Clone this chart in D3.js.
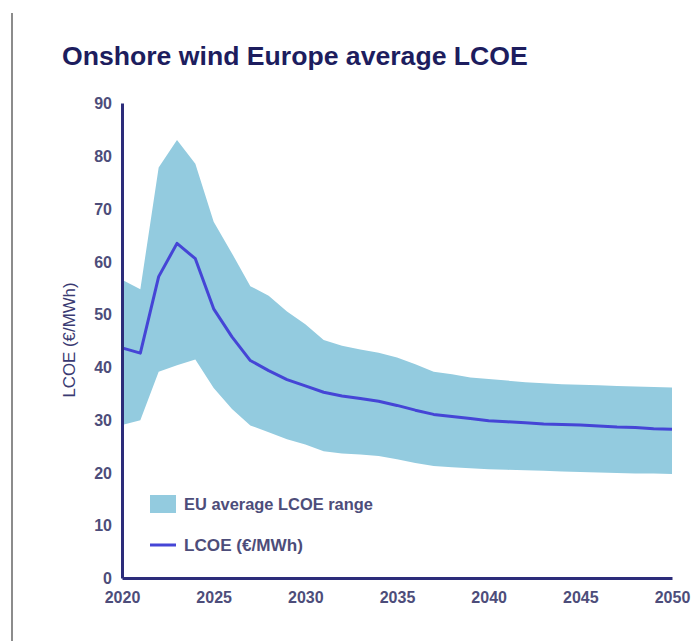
<!DOCTYPE html>
<html>
<head>
<meta charset="utf-8">
<script src="https://cdn.jsdelivr.net/npm/d3@7"></script>
<style>
  html, body { margin: 0; padding: 0; background: #fff; }
  svg { display: block; }
  text { font-family: "Liberation Sans", Arial, Helvetica, sans-serif; }
</style>
</head>
<body>
<svg id="chart" width="692" height="641"></svg>
<script>
// Onshore wind, Europe: average levelised cost of electricity (EUR/MWh)
const years = d3.range(2020, 2051);
const lcoe = [
  43.6, 42.6, 57.1, 63.4, 60.5, 51.0, 45.7, 41.2, 39.3, 37.6,
  36.4, 35.2, 34.5, 34.0, 33.5, 32.7, 31.8, 31.0, 30.6, 30.2,
  29.8, 29.6, 29.4, 29.2, 29.1, 29.0, 28.8, 28.6, 28.5, 28.3, 28.2
];
const rangeHigh = [
  56.5, 54.7, 77.8, 83.0, 78.5, 67.5, 61.5, 55.3, 53.5, 50.5,
  48.1, 45.1, 44.0, 43.3, 42.7, 41.8, 40.5, 39.1, 38.6, 38.0,
  37.7, 37.4, 37.1, 36.9, 36.7, 36.6, 36.5, 36.4, 36.3, 36.2, 36.1
];
const rangeLow = [
  29.0, 29.9, 39.1, 40.3, 41.4, 36.0, 32.0, 28.9, 27.6, 26.3,
  25.3, 24.0, 23.6, 23.4, 23.1, 22.5, 21.8, 21.2, 21.0, 20.8,
  20.6, 20.5, 20.4, 20.3, 20.2, 20.1, 20.0, 19.9, 19.8, 19.8, 19.7
];
const xTicks = [2020, 2025, 2030, 2035, 2040, 2045, 2050];
const yTicks = [0, 10, 20, 30, 40, 50, 60, 70, 80, 90];
const legendLabels = ["EU average LCOE range", "LCOE (€/MWh)"];
const titleText = "Onshore wind Europe average LCOE";
const yLabel = "LCOE (€/MWh)";

const rows = years.map((yr, i) => ({ yr, mid: lcoe[i], lo: rangeLow[i], hi: rangeHigh[i] }));

const bandColor = "#93cbdf";
const lineColor = "#4545d6";
const axisColor = "#2c2c7a";
const textColor = "#3a3a72";
const tickColor = "#4d4d7a";

const svg = d3.select("#chart");

// scale a text element's font size so its rendered width matches a target
function fitWidth(sel, target) {
  const node = sel.node();
  const fs = parseFloat(sel.attr("font-size"));
  const w = node.getComputedTextLength();
  if (w > 0) sel.attr("font-size", (fs * target / w).toFixed(2));
  return sel;
}

// page frame line on the left
svg.append("line")
  .attr("x1", 12).attr("x2", 12).attr("y1", 13).attr("y2", 641)
  .attr("stroke", "#8c8c8c").attr("stroke-width", 2);

const x = d3.scaleLinear().domain([2020, 2050]).range([122, 672]);
const y = d3.scaleLinear().domain([0, 90]).range([578, 103]);

// range band
svg.append("path")
  .datum(rows)
  .attr("fill", bandColor)
  .attr("d", d3.area()
    .x(d => x(d.yr))
    .y0(d => y(d.lo))
    .y1(d => y(d.hi)));

// average line
svg.append("path")
  .datum(rows)
  .attr("fill", "none")
  .attr("stroke", lineColor)
  .attr("stroke-width", 3)
  .attr("stroke-linejoin", "round")
  .attr("d", d3.line()
    .x(d => x(d.yr))
    .y(d => y(d.mid)));

// axes
const yAxis = svg.append("g")
  .attr("transform", `translate(${x(2020)},0)`)
  .call(d3.axisLeft(y).tickValues(yTicks).tickSize(0).tickPadding(10).tickFormat(d3.format("d")));
const xAxis = svg.append("g")
  .attr("transform", `translate(0,${y(0)})`)
  .call(d3.axisBottom(x).tickValues(xTicks).tickSize(0).tickPadding(14).tickFormat(d3.format("d")));

[yAxis, xAxis].forEach(g => {
  g.select(".domain").attr("stroke", axisColor).attr("stroke-width", 3);
  g.selectAll("text")
    .attr("fill", tickColor)
    .attr("font-size", 16)
    .attr("font-weight", "bold")
    .attr("font-family", "'Liberation Sans', Arial, sans-serif");
});
yAxis.selectAll("text").attr("dy", "0.36em");

// title
const title = svg.append("text")
  .attr("x", 62).attr("y", 65)
  .attr("font-size", 22)
  .attr("font-weight", "bold")
  .attr("fill", "#1d1d5e")
  .text(titleText);
fitWidth(title, 466);

// y-axis label
const yl = svg.append("text")
  .attr("transform", "translate(75,340) rotate(-90)")
  .attr("text-anchor", "middle")
  .attr("font-size", 14)
  .attr("fill", textColor)
  .text(yLabel);
fitWidth(yl, 115);

// legend
const legend = svg.append("g");
legend.append("rect")
  .attr("x", 150).attr("y", 495).attr("width", 26).attr("height", 18)
  .attr("fill", bandColor);
legend.append("line")
  .attr("x1", 150).attr("x2", 176).attr("y1", 545).attr("y2", 545)
  .attr("stroke", lineColor).attr("stroke-width", 3);
const l1 = legend.append("text")
  .attr("x", 184).attr("y", 510)
  .attr("font-size", 15)
  .attr("font-weight", "bold")
  .attr("fill", tickColor)
  .text(legendLabels[0]);
fitWidth(l1, 189);
const l2 = legend.append("text")
  .attr("x", 184).attr("y", 551)
  .attr("font-size", 15)
  .attr("font-weight", "bold")
  .attr("fill", tickColor)
  .text(legendLabels[1]);
fitWidth(l2, 119);
</script>
</body>
</html>
